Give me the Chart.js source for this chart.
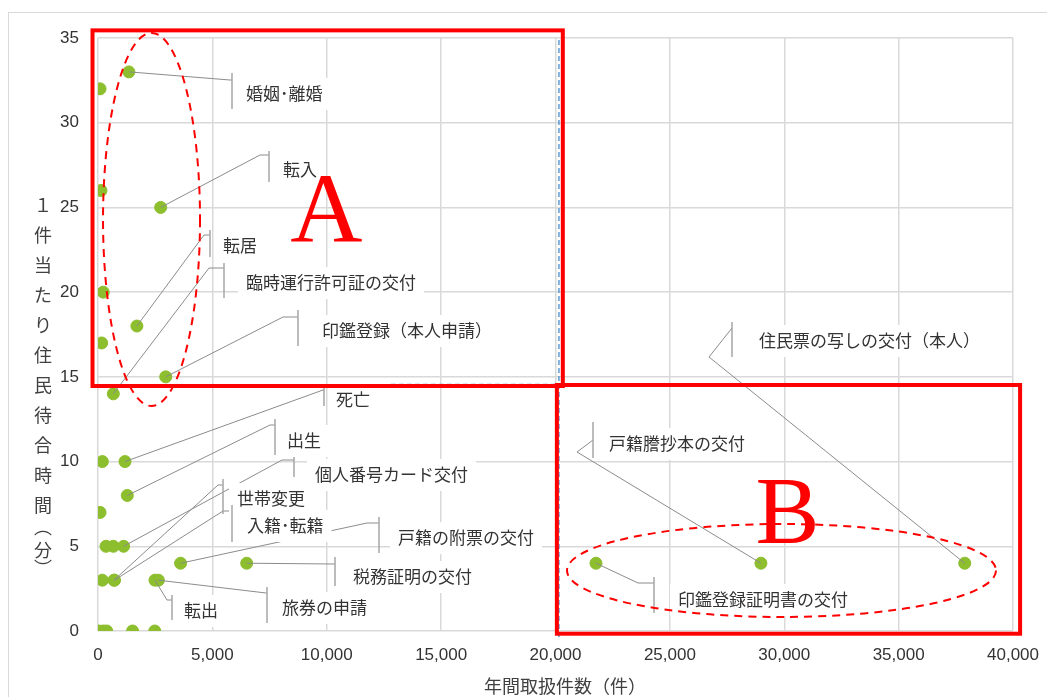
<!DOCTYPE html>
<html lang="ja">
<head>
<meta charset="UTF-8">
<title>年間取扱件数と1件当たり住民待合時間</title>
<script src="https://cdn.jsdelivr.net/npm/chart.js@4.4.1/dist/chart.umd.min.js"></script>
<style>
  html, body { margin: 0; padding: 0; background: #fff; }
  #wrap { position: relative; width: 1047px; height: 697px; }
</style>
</head>
<body>
<div id="wrap"><canvas id="waitChart" width="1047" height="697"></canvas></div>
<script>
// labelled procedures: annual count (件) and wait per case (分)
const labeledNames = ['婚姻･離婚', '転入', '転居', '臨時運行許可証の交付', '印鑑登録（本人申請）', '死亡', '出生',
    '世帯変更', '個人番号カード交付', '入籍･転籍', '戸籍の附票の交付', '税務証明の交付', '転出', '旅券の申請',
    '住民票の写しの交付（本人）', '戸籍謄抄本の交付', '印鑑登録証明書の交付'];
const labeledCounts = [1350, 2740, 1700, 670, 2960, 1180, 1280, 700, 1120, 720, 3610, 6500, 2490, 2640, 37890, 28980, 21770];
const labeledWaits = [33, 25, 18, 14, 15, 10, 8, 3, 5, 3, 4, 4, 3, 3, 4, 4, 4];

// unlabelled procedures
const otherCounts = [90, 130, 230, 160, 190, 90, 350, 670, 190, 40, 230, 380, 1510, 2480];
const otherWaits = [32, 26, 20, 17, 10, 7, 5, 5, 3, 0, 0, 0, 0, 0];

const xTicks = [0, 5000, 10000, 15000, 20000, 25000, 30000, 35000, 40000];
const yTicks = [0, 5, 10, 15, 20, 25, 30, 35];

const xTitle = '年間取扱件数（件）';
const yTitleChars = ['１', '件', '当', 'た', 'り', '住', '民', '待', '合', '時', '間', '︵', '分', '︶'];
const yTitleSteps = [30, 30, 30, 30, 30, 30, 30, 30, 30, 30, 22, 23, 18];

// callout layout (canvas px): elbow of leader, tick [x, top, bottom], text [left, middle]
const callouts = [
    { elbow: [230, 80], tick: [232, 73, 109], text: [246, 94] },
    { elbow: [260, 155], tick: [269, 151, 182], text: [283, 170] },
    { elbow: [204, 235], tick: [210, 230, 257], text: [223, 246] },
    { elbow: [209, 268], tick: [224, 263, 298], text: [246, 283] },
    { elbow: [283, 317], tick: [298, 310, 346], text: [322, 331] },
    { elbow: [323, 390], tick: [324, 388, 406], text: [336, 400] },
    { elbow: [270, 425], tick: [275, 419, 455], text: [287, 441] },
    { elbow: [218, 485], tick: [223, 479, 514], text: [237, 499] },
    { elbow: [282, 460], tick: [294, 457, 477], text: [315, 475] },
    { elbow: [223, 511], tick: [232, 505, 542], text: [247, 526] },
    { elbow: [367, 523], tick: [379, 517, 553], text: [398, 538] },
    { elbow: [335, 564], tick: [335, 557, 586], text: [353, 577] },
    { elbow: [167, 600], tick: [172, 595, 620], text: [184, 611] },
    { elbow: [266, 593], tick: [267, 587, 623], text: [282, 608] },
    { elbow: [709, 357], end: [732, 328], tick: [732, 322, 357], text: [759, 341] },
    { elbow: [577, 452], end: [593, 440], tick: [593, 422, 458], text: [609, 444] },
    { elbow: [638, 583], tick: [654, 577, 613], text: [678, 600] }
];

// highlight shapes, in data units
const groupBoxes = [
    { x0: -240, x1: 20320, y0: 35.45, y1: 14.46 },
    { x0: 20060, x1: 40310, y0: 14.52, y1: -0.16 }
];
const groupEllipses = [
    { cx: 2340, cy: 24.29, rx: 2120, ry: 11.01 },
    { cx: 29880, cy: 3.57, rx: 9377, ry: 2.744 }
];
const groupLetters = [
    { text: 'A', x: 9985, y: 22.96, size: 100 },
    { text: 'B', x: 30142, y: 5.19, size: 96 }
];

const jpFont = '"Noto Sans CJK JP", "Noto Sans", sans-serif';
const numFont = '"Liberation Sans", Arial, sans-serif';

const points = labeledCounts.map((x, i) => ({ x: x, y: labeledWaits[i] }))
    .concat(otherCounts.map((x, i) => ({ x: x, y: otherWaits[i] })));

const decorPlugin = {
    id: 'decor',
    beforeDraw(chart) {
        const c = chart.ctx;
        c.save();
        c.fillStyle = '#fff';
        c.fillRect(0, 0, chart.width, chart.height);
        c.strokeStyle = '#d9d9d9';
        c.lineWidth = 1;
        c.strokeRect(8.5, 12.5, chart.width + 20, chart.height + 20);
        c.restore();
    },
    afterDatasetsDraw(chart) {
        const c = chart.ctx;
        const xs = chart.scales.x, ys = chart.scales.y;
        c.save();

        // leader lines
        c.lineWidth = 1;
        c.strokeStyle = '#8c8c8c';
        labeledNames.forEach((name, i) => {
            const L = callouts[i];
            const end = L.end || [L.tick[0], L.elbow[1]];
            c.beginPath();
            c.moveTo(xs.getPixelForValue(labeledCounts[i]), ys.getPixelForValue(labeledWaits[i]));
            c.lineTo(L.elbow[0], L.elbow[1]);
            c.lineTo(end[0], end[1]);
            c.stroke();
        });

        // label boxes, ticks and text
        c.font = '17px ' + jpFont;
        c.textBaseline = 'middle';
        labeledNames.forEach((name, i) => {
            const L = callouts[i];
            const w = c.measureText(name).width;
            c.fillStyle = '#fff';
            c.fillRect(L.text[0] - 8, L.text[1] - 16, w + 16, 32);
            c.strokeStyle = '#a6a6a6';
            c.lineWidth = 1.5;
            c.beginPath();
            c.moveTo(L.tick[0], L.tick[1]);
            c.lineTo(L.tick[0], L.tick[2]);
            c.stroke();
            c.fillStyle = '#333';
            c.fillText(name, L.text[0], L.text[1]);
        });

        // dashed blue guide at 20,000
        const gx = xs.getPixelForValue(20150);
        c.strokeStyle = '#5b9bd5';
        c.lineWidth = 1.5;
        c.setLineDash([5, 3]);
        c.beginPath();
        c.moveTo(gx, ys.getPixelForValue(35) + 2);
        c.lineTo(gx, ys.getPixelForValue(0) + 9);
        c.moveTo(xs.getPixelForValue(12800), ys.getPixelForValue(14.55));
        c.lineTo(gx, ys.getPixelForValue(14.55));
        c.stroke();

        // red group boxes
        c.setLineDash([]);
        c.strokeStyle = '#ff0000';
        c.lineWidth = 4;
        groupBoxes.forEach(b => {
            const x0 = xs.getPixelForValue(b.x0), x1 = xs.getPixelForValue(b.x1);
            const y0 = ys.getPixelForValue(b.y0), y1 = ys.getPixelForValue(b.y1);
            c.strokeRect(x0, y0, x1 - x0, y1 - y0);
        });

        // dashed ellipses
        c.lineWidth = 2;
        c.setLineDash([8, 6]);
        groupEllipses.forEach(e => {
            const cx = xs.getPixelForValue(e.cx), cy = ys.getPixelForValue(e.cy);
            const rx = xs.getPixelForValue(e.cx + e.rx) - cx;
            const ry = cy - ys.getPixelForValue(e.cy + e.ry);
            c.beginPath();
            c.ellipse(cx, cy, rx, ry, 0, 0, Math.PI * 2);
            c.stroke();
        });
        c.setLineDash([]);

        // group letters
        c.fillStyle = '#ff0000';
        c.textAlign = 'center';
        c.textBaseline = 'alphabetic';
        groupLetters.forEach(g => {
            c.font = g.size + 'px "Liberation Serif", "Times New Roman", serif';
            c.fillText(g.text, xs.getPixelForValue(g.x), ys.getPixelForValue(g.y));
        });
        c.restore();
    },
    afterDraw(chart) {
        const c = chart.ctx;
        c.save();
        c.fillStyle = '#404040';
        c.font = '18px ' + jpFont;
        c.textAlign = 'center';
        c.textBaseline = 'middle';
        c.fillText(xTitle, 565, 686);

        // vertical y title
        let y = 205;
        yTitleChars.forEach((ch, i) => {
            c.fillText(ch, 43, y);
            y += yTitleSteps[i] || 0;
        });
        c.restore();
    }
};

const ctx = document.getElementById('waitChart').getContext('2d');
new Chart(ctx, {
    type: 'scatter',
    data: {
        datasets: [{
            data: points,
            backgroundColor: '#8dbe2d',
            borderColor: '#8dbe2d',
            pointRadius: 6,
            pointHoverRadius: 6
        }]
    },
    options: {
        responsive: false,
        animation: false,
        layout: { padding: { left: 0, right: 34, top: 38, bottom: 0 } },
        plugins: {
            legend: { display: false },
            tooltip: { enabled: false }
        },
        scales: {
            x: {
                type: 'linear',
                min: 0,
                max: 40000,
                afterBuildTicks: function(scale) {
                    scale.ticks = xTicks.map(v => ({ value: v }));
                },
                afterFit: function(scale) {
                    scale.height = 66;
                    scale.paddingLeft = 0;
                    scale.paddingRight = 0;
                },
                grid: { color: '#d9d9d9', lineWidth: 1.5, drawTicks: false },
                border: { display: false },
                ticks: {
                    padding: 14,
                    color: '#333',
                    maxRotation: 0,
                    autoSkip: false,
                    font: { family: numFont, size: 17 },
                    callback: function(value) {
                        return value.toLocaleString('en-US');
                    }
                }
            },
            y: {
                type: 'linear',
                min: 0,
                max: 35,
                afterBuildTicks: function(scale) {
                    scale.ticks = yTicks.map(v => ({ value: v }));
                },
                afterFit: function(scale) {
                    scale.width = 98;
                    scale.paddingTop = 0;
                    scale.paddingBottom = 0;
                },
                grid: { color: '#d9d9d9', lineWidth: 1.5, drawTicks: false },
                border: { display: false },
                ticks: {
                    padding: 19,
                    color: '#333',
                    font: { family: numFont, size: 17 }
                }
            }
        }
    },
    plugins: [decorPlugin]
});
</script>
</body>
</html>
